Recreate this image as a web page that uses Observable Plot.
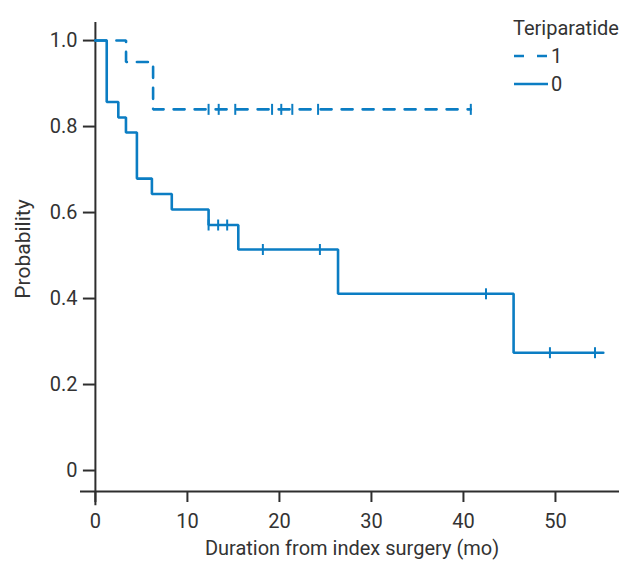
<!DOCTYPE html>
<html>
<head>
<meta charset="utf-8">
<script src="https://cdn.jsdelivr.net/npm/d3@7"></script>
<script src="https://cdn.jsdelivr.net/npm/@observablehq/plot@0.6"></script>
<style>
  html, body { margin: 0; padding: 0; background: #fff; }
  #wrap { position: relative; width: 619px; height: 562px; overflow: hidden; font-family: Roboto, "Liberation Sans", sans-serif; }
  #legend { position: absolute; left: 513px; top: 14px; color: #333; font-size: 20px; }
  #legend .row { display: flex; align-items: center; height: 28px; }
  #legend .title { height: 28px; line-height: 28px; }
  #legend svg { display: block; margin-right: 2px; }
</style>
</head>
<body>
<div id="wrap">
  <div id="chart"></div>
  <div id="legend"></div>
</div>
<script>
// Group labels
const groups = ["1", "0"];
const legendTitle = "Teriparatide";

// Teriparatide = 0 (solid): step times (mo) and survival probability
const times0 = [0, 1.23, 2.49, 3.32, 4.51, 6.14, 8.3, 12.3, 15.53, 26.37, 45.45, 55.2];
const surv0  = [1, 0.857, 0.821, 0.786, 0.679, 0.643, 0.607, 0.571, 0.514, 0.411, 0.274, 0.274];
// censored observations, group 0
const cens0Times = [12.3, 13.34, 14.32, 18.2, 24.4, 42.45, 49.4, 54.3];
const cens0Surv  = [0.571, 0.571, 0.571, 0.514, 0.514, 0.411, 0.274, 0.274];

// Teriparatide = 1 (dashed)
const times1 = [0, 3.33, 6.27, 40.8];
const surv1  = [1, 0.95, 0.84, 0.84];
const cens1Times = [12.3, 13.4, 15.2, 19.2, 20.2, 21.4, 24.2, 40.8];
const cens1Surv  = [0.84, 0.84, 0.84, 0.84, 0.84, 0.84, 0.84, 0.84];

// axis ticks
const xTicks = [0, 10, 20, 30, 40, 50];
const yTicks = [0, 0.2, 0.4, 0.6, 0.8, 1.0];
const xLabel = "Duration from index surgery (mo)";
const yLabel = "Probability";

const blue = "#0b7dc3";
const axisColor = "#2e2e2e";
const xDomain = [-1.62, 56.96];
const yDomain = [-0.0488, 1.042];

const line0 = times0.map((t, i) => ({t, s: surv0[i]}));
const line1 = times1.map((t, i) => ({t, s: surv1[i]}));
const cens0 = cens0Times.map((t, i) => ({t, s: cens0Surv[i]}));
const cens1 = cens1Times.map((t, i) => ({t, s: cens1Surv[i]}));

const vtick = {
  draw(ctx, size) {
    const r = Math.sqrt(size / Math.PI);
    ctx.moveTo(0, -r);
    ctx.lineTo(0, r);
  }
};

const chart = Plot.plot({
  width: 619,
  height: 562,
  marginLeft: 80,
  marginRight: 0,
  marginTop: 22,
  marginBottom: 71,
  style: {fontFamily: "Roboto, 'Liberation Sans', sans-serif", fontSize: "20px", color: "#333", background: "#fff"},
  x: {domain: xDomain, axis: null},
  y: {domain: yDomain, axis: null},
  marks: [
    Plot.axisY(yTicks, {
      x: 0, anchor: "left", tickSize: 12, tickPadding: 6, fontSize: 20,
      stroke: axisColor, strokeWidth: 2, fill: "#333",
      tickFormat: d => d === 0 ? "0" : d.toFixed(1), label: null
    }),
    Plot.axisX(xTicks, {
      anchor: "bottom", tickSize: 11, tickPadding: 11, fontSize: 20,
      stroke: axisColor, strokeWidth: 2, fill: "#333", label: null
    }),
    Plot.ruleY([yDomain[0]], {stroke: axisColor, strokeWidth: 2}),
    Plot.ruleX([0], {y1: -0.082, y2: yDomain[1], stroke: axisColor, strokeWidth: 2}),
    Plot.line(line1, {x: "t", y: "s", curve: "step-after", stroke: blue, strokeWidth: 2.6, strokeDasharray: "11,10", strokeLinejoin: "miter"}),
    Plot.line(line0, {x: "t", y: "s", curve: "step-after", stroke: blue, strokeWidth: 2.6, strokeLinejoin: "miter"}),
    Plot.dot(cens1, {x: "t", y: "s", symbol: vtick, r: 5.5, stroke: blue, strokeWidth: 2, fill: "none"}),
    Plot.dot(cens0, {x: "t", y: "s", symbol: vtick, r: 5.5, stroke: blue, strokeWidth: 2, fill: "none"}),
    Plot.text([xLabel], {frameAnchor: "bottom", dx: 2, dy: 63, fontSize: 20, fill: "#333"}),
    Plot.text([yLabel], {frameAnchor: "left", textAnchor: "middle", lineAnchor: "middle", rotate: -90, dx: -57, dy: -8, fontSize: 21, fill: "#333"})
  ]
});
document.getElementById("chart").appendChild(chart);

// legend
const lg = document.getElementById("legend");
const t = document.createElement("div");
t.className = "title";
t.textContent = legendTitle;
lg.appendChild(t);
groups.forEach(g => {
  const row = document.createElement("div");
  row.className = "row";
  const dash = g === "1" ? "10,13" : null;
  row.innerHTML = `<svg width="36" height="10"><line x1="1" x2="35" y1="5" y2="5" stroke="${blue}" stroke-width="2.6" ${dash ? `stroke-dasharray="${dash}"` : ""}/></svg><span>${g}</span>`;
  lg.appendChild(row);
});
</script>
</body>
</html>
